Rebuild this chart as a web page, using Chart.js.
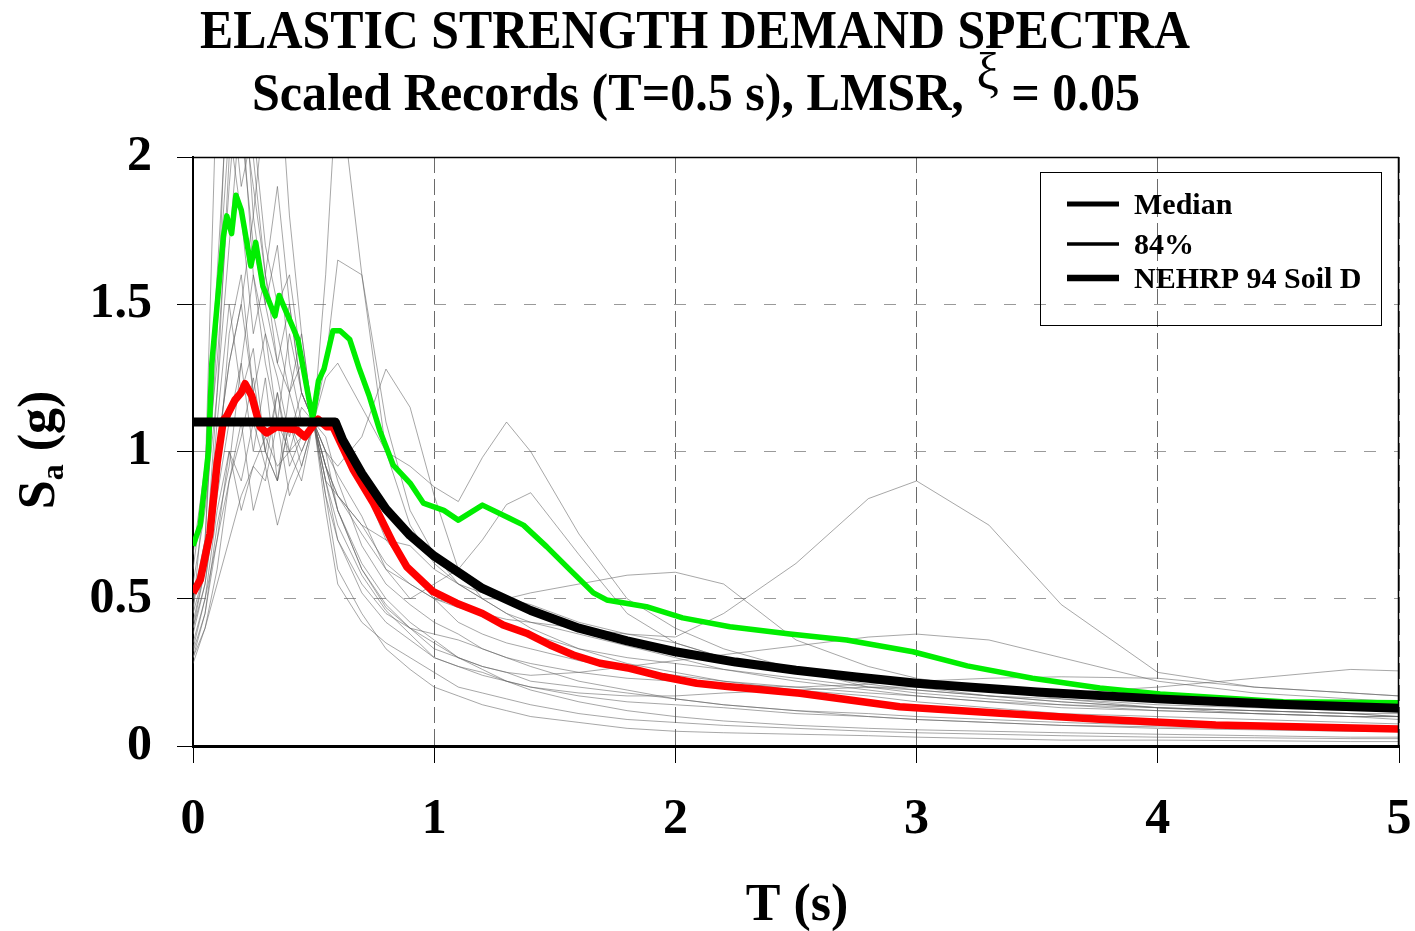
<!DOCTYPE html>
<html>
<head>
<meta charset="utf-8">
<title>Elastic Strength Demand Spectra</title>
<script src="https://cdn.jsdelivr.net/npm/chart.js@4.4.1/dist/chart.umd.min.js"></script>
<style>
  html, body { margin: 0; padding: 0; background: #fff; }
  canvas { display: block; }
</style>
</head>
<body>
<canvas id="chartSpectra" width="1415" height="931"></canvas>
<script>
// --- DONNEES ---
const periods = [0, 0.05, 0.1, 0.15, 0.2, 0.25, 0.3, 0.35, 0.4, 0.45, 0.5, 0.55, 0.6, 0.7, 0.8, 0.9, 1.0, 1.1, 1.2, 1.3, 1.4, 1.6, 1.8, 2.0, 2.2, 2.5, 2.8, 3.0, 3.3, 3.6, 4.0, 4.4, 4.8, 5.0];

// enregistrements mis a l'echelle (traits gris)
const rec01 = [0.45, 0.9, 2.3, 2.6, 2.1, 1.7, 1.5, 1.3, 1.2, 1.05, 1.1, 0.95, 0.8, 0.62, 0.5, 0.42, 0.36, 0.3, 0.26, 0.22, 0.19, 0.15, 0.12, 0.1, 0.085, 0.07, 0.06, 0.055, 0.05, 0.045, 0.04, 0.035, 0.03, 0.03];
const rec02 = [0.35, 0.5, 0.8, 1.0, 0.9, 1.1, 0.95, 1.2, 1.0, 0.9, 1.1, 1.6, 2.3, 1.6, 1.0, 0.75, 0.62, 0.55, 0.5, 0.45, 0.4, 0.33, 0.28, 0.25, 0.22, 0.19, 0.17, 0.15, 0.13, 0.11, 0.1, 0.09, 0.08, 0.075];
const rec03 = [0.4, 0.6, 1.0, 1.3, 1.5, 1.2, 1.0, 0.9, 1.2, 1.4, 1.1, 1.3, 1.65, 1.6, 1.1, 0.8, 0.65, 0.55, 0.5, 0.5, 0.48, 0.42, 0.38, 0.35, 0.3, 0.25, 0.22, 0.2, 0.17, 0.15, 0.13, 0.12, 0.11, 0.1];
const rec04 = [0.3, 0.45, 0.7, 1.0, 0.8, 0.95, 0.9, 1.1, 0.85, 0.95, 1.1, 1.0, 0.95, 1.05, 1.28, 1.15, 0.85, 0.6, 0.5, 0.45, 0.42, 0.38, 0.34, 0.3, 0.26, 0.22, 0.19, 0.17, 0.15, 0.13, 0.12, 0.11, 0.1, 0.1];
const rec05 = [0.5, 0.7, 1.5, 2.1, 1.8, 1.4, 1.6, 1.3, 1.5, 1.2, 1.1, 1.25, 1.3, 1.15, 1.0, 0.95, 0.88, 0.83, 0.98, 1.1, 1.0, 0.72, 0.5, 0.4, 0.33, 0.26, 0.2, 0.18, 0.16, 0.14, 0.12, 0.11, 0.1, 0.1];
const rec06 = [0.55, 0.8, 1.2, 1.7, 2.2, 1.6, 1.3, 1.1, 1.4, 1.2, 1.1, 0.9, 0.85, 0.72, 0.6, 0.5, 0.55, 0.6, 0.7, 0.82, 0.86, 0.65, 0.45, 0.35, 0.3, 0.25, 0.21, 0.19, 0.17, 0.15, 0.13, 0.12, 0.11, 0.1];
const rec07 = [0.28, 0.4, 0.6, 0.9, 1.1, 0.8, 0.95, 0.75, 0.9, 1.0, 1.1, 0.95, 0.85, 0.75, 0.62, 0.55, 0.5, 0.47, 0.45, 0.43, 0.42, 0.4, 0.38, 0.37, 0.45, 0.62, 0.84, 0.9, 0.75, 0.48, 0.25, 0.2, 0.18, 0.17];
const rec08 = [0.42, 0.6, 1.1, 1.5, 1.2, 1.35, 1.0, 1.2, 0.95, 1.05, 1.1, 0.95, 0.85, 0.75, 0.7, 0.68, 0.6, 0.55, 0.52, 0.5, 0.52, 0.55, 0.58, 0.59, 0.55, 0.36, 0.27, 0.23, 0.19, 0.16, 0.13, 0.11, 0.1, 0.09];
const rec09 = [0.32, 0.45, 0.75, 0.95, 1.3, 1.0, 1.25, 0.9, 1.1, 1.0, 1.1, 1.0, 0.8, 0.6, 0.48, 0.4, 0.35, 0.3, 0.27, 0.25, 0.24, 0.25, 0.27, 0.29, 0.31, 0.34, 0.37, 0.38, 0.36, 0.3, 0.22, 0.18, 0.16, 0.15];
const rec10 = [0.38, 0.55, 0.9, 1.4, 1.6, 1.2, 1.4, 1.1, 1.0, 1.15, 1.1, 0.9, 0.7, 0.52, 0.42, 0.36, 0.3, 0.27, 0.24, 0.22, 0.2, 0.18, 0.17, 0.17, 0.18, 0.19, 0.2, 0.2, 0.19, 0.18, 0.2, 0.23, 0.26, 0.255];
const rec11 = [0.6, 0.9, 1.3, 1.9, 2.4, 1.8, 1.5, 1.7, 1.3, 1.1, 1.1, 0.85, 0.7, 0.55, 0.45, 0.4, 0.38, 0.36, 0.33, 0.3, 0.28, 0.25, 0.23, 0.22, 0.21, 0.2, 0.21, 0.22, 0.23, 0.235, 0.23, 0.2, 0.18, 0.17];
const rec12 = [0.33, 0.5, 0.7, 0.9, 1.05, 1.25, 1.0, 0.9, 1.1, 0.95, 1.1, 0.8, 0.55, 0.42, 0.35, 0.3, 0.25, 0.2, 0.18, 0.16, 0.14, 0.11, 0.09, 0.08, 0.07, 0.06, 0.05, 0.045, 0.04, 0.035, 0.03, 0.028, 0.025, 0.025];
const rec13 = [0.47, 0.7, 1.4, 2.5, 2.2, 1.9, 1.6, 1.4, 1.2, 1.3, 1.1, 0.9, 0.75, 0.58, 0.46, 0.38, 0.3, 0.27, 0.25, 0.22, 0.2, 0.17, 0.15, 0.14, 0.13, 0.11, 0.1, 0.09, 0.08, 0.07, 0.06, 0.055, 0.05, 0.05];
const rec14 = [0.5, 0.65, 1.0, 1.3, 1.5, 1.8, 2.2, 2.4, 1.8, 1.4, 1.1, 1.05, 0.9, 0.68, 0.55, 0.48, 0.42, 0.38, 0.33, 0.3, 0.27, 0.22, 0.19, 0.16, 0.14, 0.12, 0.1, 0.09, 0.08, 0.07, 0.065, 0.06, 0.055, 0.05];
const rec15 = [0.65, 0.95, 1.6, 2.3, 1.9, 2.1, 1.7, 1.5, 1.6, 1.3, 1.1, 1.0, 0.92, 0.78, 0.6, 0.55, 0.5, 0.48, 0.44, 0.4, 0.38, 0.33, 0.3, 0.28, 0.26, 0.23, 0.2, 0.19, 0.17, 0.16, 0.14, 0.13, 0.12, 0.12];
const rec16 = [0.4, 0.55, 0.85, 1.1, 1.3, 1.6, 1.4, 1.25, 1.05, 1.2, 1.1, 0.95, 0.8, 0.6, 0.47, 0.4, 0.33, 0.3, 0.27, 0.25, 0.22, 0.2, 0.18, 0.16, 0.14, 0.12, 0.11, 0.1, 0.09, 0.08, 0.07, 0.065, 0.06, 0.06];
const rec17 = [0.3, 0.4, 0.55, 0.7, 0.85, 0.95, 1.05, 0.95, 1.0, 1.05, 1.1, 0.85, 0.6, 0.45, 0.33, 0.26, 0.2, 0.17, 0.14, 0.12, 0.1, 0.08, 0.06, 0.05, 0.045, 0.04, 0.035, 0.03, 0.025, 0.02, 0.02, 0.018, 0.015, 0.015];
const rec18 = [0.45, 0.6, 1.2, 2.0, 2.6, 2.0, 1.6, 1.9, 1.5, 1.2, 1.1, 1.1, 1.05, 0.9, 0.7, 0.6, 0.5, 0.42, 0.38, 0.35, 0.33, 0.29, 0.26, 0.24, 0.22, 0.2, 0.18, 0.17, 0.15, 0.14, 0.13, 0.12, 0.11, 0.11];
const records = [rec01, rec02, rec03, rec04, rec05, rec06, rec07, rec08, rec09, rec10, rec11, rec12, rec13, rec14, rec15, rec16, rec17, rec18];

// mediane (rouge)
const medianT  = [0, 0.03, 0.07, 0.1, 0.126, 0.14, 0.174, 0.2, 0.216, 0.243, 0.278, 0.305, 0.347, 0.43, 0.464, 0.518, 0.554, 0.58, 0.665, 0.748, 0.83, 0.886, 0.996, 1.093, 1.2, 1.286, 1.383, 1.48, 1.577, 1.687, 1.81, 1.95, 2.088, 2.226, 2.517, 2.93, 3.346, 3.76, 4.24, 5.0];
const medianSa = [0.52, 0.564, 0.72, 0.96, 1.107, 1.12, 1.175, 1.2, 1.23, 1.19, 1.084, 1.063, 1.084, 1.073, 1.05, 1.11, 1.084, 1.084, 0.937, 0.824, 0.688, 0.609, 0.524, 0.485, 0.45, 0.411, 0.383, 0.343, 0.309, 0.281, 0.264, 0.235, 0.213, 0.201, 0.179, 0.133, 0.111, 0.091, 0.071, 0.058];

// 84% (vert)
const p84T  = [0, 0.03, 0.064, 0.078, 0.098, 0.126, 0.14, 0.16, 0.178, 0.2, 0.24, 0.26, 0.29, 0.34, 0.357, 0.415, 0.435, 0.496, 0.52, 0.543, 0.58, 0.61, 0.65, 0.69, 0.73, 0.775, 0.83, 0.9, 0.955, 1.04, 1.1, 1.2, 1.31, 1.37, 1.466, 1.563, 1.66, 1.715, 1.88, 2.03, 2.226, 2.475, 2.71, 2.985, 3.21, 3.48, 3.76, 4.01, 4.52, 5.0];
const p84Sa = [0.68, 0.75, 1.0, 1.3, 1.48, 1.73, 1.80, 1.74, 1.87, 1.82, 1.63, 1.71, 1.56, 1.46, 1.53, 1.42, 1.38, 1.11, 1.24, 1.28, 1.41, 1.41, 1.38, 1.28, 1.19, 1.07, 0.954, 0.893, 0.825, 0.80, 0.767, 0.818, 0.774, 0.75, 0.677, 0.598, 0.52, 0.496, 0.473, 0.435, 0.405, 0.38, 0.36, 0.32, 0.272, 0.23, 0.197, 0.177, 0.15, 0.147];

// NEHRP 94 sol D (noir)
const nehrpT  = [0, 0.59, 0.62, 0.7, 0.8, 0.9, 1.0, 1.2, 1.4, 1.6, 1.8, 2.0, 2.25, 2.5, 2.75, 3.0, 3.5, 4.0, 4.5, 5.0];
const nehrpSa = [1.10, 1.10, 1.04, 0.925, 0.805, 0.715, 0.645, 0.535, 0.46, 0.40, 0.357, 0.32, 0.285, 0.257, 0.234, 0.213, 0.183, 0.16, 0.142, 0.128];

const legendLabels = ['Median', '84%', 'NEHRP 94 Soil D'];
const titleLine1 = 'ELASTIC STRENGTH DEMAND SPECTRA';
const titleLine2 = ['Scaled Records (T=0.5 s), LMSR, ', '\u03BE', ' = 0.05'];

const SERIF = '"Liberation Serif", "Times New Roman", serif';

function pts(xs, ys) { return ys.map((v, i) => ({ x: xs[i], y: v })); }

// --- DECOR: titres, legende, cadre ---
const decorPlugin = {
    id: 'decor',
    afterDraw(chart) {
        const ctx = chart.ctx, a = chart.chartArea;
        ctx.save();
        ctx.fillStyle = '#000'; ctx.strokeStyle = '#000';
        ctx.textBaseline = 'alphabetic';

        // cadre haut / droite
        ctx.lineWidth = 1.5;
        ctx.beginPath();
        ctx.moveTo(a.left, a.top + 0.5); ctx.lineTo(a.right, a.top + 0.5);
        ctx.moveTo(a.right - 0.5, a.top); ctx.lineTo(a.right - 0.5, a.bottom);
        ctx.stroke();

        // titre ligne 1 (un peu condense)
        ctx.font = 'bold 54px ' + SERIF;
        let w1 = ctx.measureText(titleLine1).width;
        let s1 = 990 / w1;
        ctx.save(); ctx.translate(695 - 495, 48); ctx.scale(s1, 1);
        ctx.fillText(titleLine1, 0, 0); ctx.restore();

        // titre ligne 2 avec xi en exposant
        const sizes = [52, 52, 52], dys = [0, -21, 0], weights = ['bold', 'normal', 'bold'];
        let widths = titleLine2.map((t, i) => { ctx.font = weights[i] + ' ' + sizes[i] + 'px ' + SERIF; return ctx.measureText(t).width; });
        let tot = widths.reduce((p, c) => p + c, 0);
        let s2 = 888 / tot;
        ctx.save(); ctx.translate(696 - 444, 110); ctx.scale(s2, 1);
        let cx = 0;
        titleLine2.forEach((t, i) => {
            ctx.font = weights[i] + ' ' + sizes[i] + 'px ' + SERIF;
            ctx.fillText(t, cx, dys[i]); cx += widths[i];
        });
        ctx.restore();

        // titre axe X
        ctx.font = 'bold 52px ' + SERIF;
        ctx.textAlign = 'center';
        ctx.fillText('T (s)', 797, 920);

        // titre axe Y : S indice a (g)
        ctx.textAlign = 'left';
        ctx.save(); ctx.translate(54, 450); ctx.rotate(-Math.PI / 2);
        ctx.font = 'bold 52px ' + SERIF; let wS = ctx.measureText('S').width, wG = ctx.measureText(' (g)').width;
        ctx.font = 'bold 32px ' + SERIF; let wA = ctx.measureText('a').width;
        let x0 = -(wS + wA + wG) / 2;
        ctx.font = 'bold 52px ' + SERIF; ctx.fillText('S', x0, 0);
        ctx.font = 'bold 32px ' + SERIF; ctx.fillText('a', x0 + wS, 9);
        ctx.font = 'bold 52px ' + SERIF; ctx.fillText(' (g)', x0 + wS + wA, 0);
        ctx.restore();

        // legende
        ctx.lineWidth = 1;
        ctx.strokeRect(1040.5, 172.5, 341, 153);
        const rows = [{ y: 204, w: 5 }, { y: 244, w: 3.5 }, { y: 278, w: 6.5 }];
        ctx.font = 'bold 30px ' + SERIF;
        legendLabels.forEach((lab, i) => {
            ctx.lineWidth = rows[i].w;
            ctx.beginPath(); ctx.moveTo(1067, rows[i].y); ctx.lineTo(1119, rows[i].y); ctx.stroke();
            ctx.fillText(lab, 1134, rows[i].y + 10);
        });
        ctx.restore();
    }
};

// --- GRAPHIQUE ---
let datasets = records.map(r => ({
    data: pts(periods, r), borderColor: 'rgba(95,95,95,0.55)', borderWidth: 1, order: 3
}));
datasets.push({ label: legendLabels[1], data: pts(p84T, p84Sa), borderColor: '#00ee00', borderWidth: 5.5, order: 2 });
datasets.push({ label: legendLabels[0], data: pts(medianT, medianSa), borderColor: '#ff0000', borderWidth: 7.5, order: 1 });
datasets.push({ label: legendLabels[2], data: pts(nehrpT, nehrpSa), borderColor: '#000000', borderWidth: 9, order: 0 });

const tickFont = { family: SERIF, size: 50, weight: 'bold' };

new Chart(document.getElementById('chartSpectra').getContext('2d'), {
    type: 'line',
    data: { datasets: datasets },
    options: {
        responsive: false, animation: false, devicePixelRatio: 1,
        layout: { padding: { top: 157, right: 16, left: 0, bottom: 0 } },
        elements: { point: { radius: 0 }, line: { tension: 0, borderJoinStyle: 'round', borderCapStyle: 'butt' } },
        plugins: { legend: { display: false }, tooltip: { enabled: false }, title: { display: false } },
        scales: {
            x: {
                type: 'linear', min: 0, max: 5,
                afterFit(s) { s.height = 185; s.paddingRight = 0; s.paddingLeft = 0; },
                ticks: { stepSize: 1, font: tickFont, color: '#000', padding: 27, maxRotation: 0, callback: v => String(v) },
                grid: { color: '#6a6a6a', lineWidth: 1, tickLength: 17, tickColor: '#000', tickBorderDash: [], tickWidth: 1 },
                border: { color: '#000', width: 3, dash: [16, 6] }
            },
            y: {
                min: 0, max: 2,
                afterFit(s) { s.width = 193; },
                ticks: { stepSize: 0.5, font: tickFont, color: '#000', padding: 25, callback: v => String(v) },
                grid: { color: '#9a9a9a', lineWidth: 1, tickLength: 16, tickColor: '#000', tickBorderDash: [], tickWidth: 1 },
                border: { color: '#000', width: 2, dash: [12, 18] }
            }
        }
    },
    plugins: [decorPlugin]
});
</script>
</body>
</html>
